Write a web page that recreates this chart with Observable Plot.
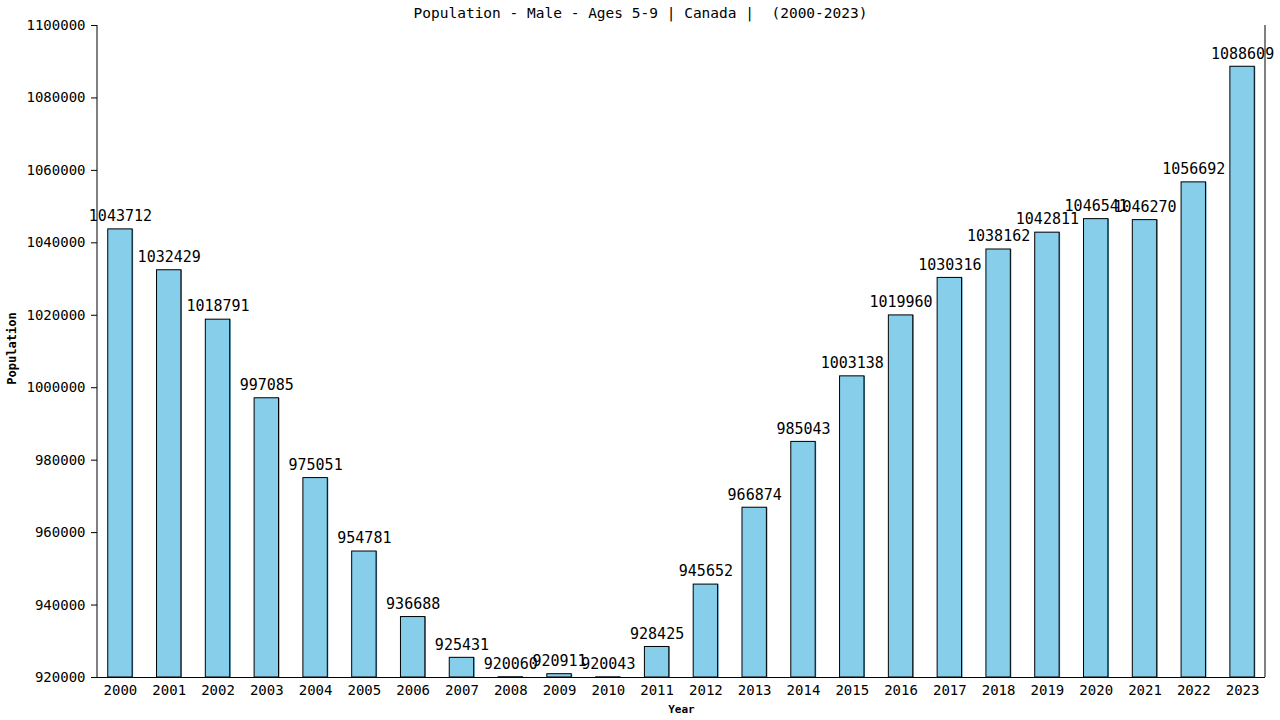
<!DOCTYPE html>
<html>
<head>
<meta charset="utf-8">
<script src="https://cdn.jsdelivr.net/npm/d3@7"></script>
<script src="https://cdn.jsdelivr.net/npm/@observablehq/plot@0.6"></script>
<style>
  html, body { margin: 0; padding: 0; background: #fff; }
  svg { display: block; }
</style>
</head>
<body>
<div id="chart"></div>
<script>
const years = ["2000","2001","2002","2003","2004","2005","2006","2007","2008","2009","2010","2011","2012","2013","2014","2015","2016","2017","2018","2019","2020","2021","2022","2023"];
const population = [1043712,1032429,1018791,997085,975051,954781,936688,925431,920060,920911,920043,928425,945652,966874,985043,1003138,1019960,1030316,1038162,1042811,1046541,1046270,1056692,1088609];
const yTicks = [920000,940000,960000,980000,1000000,1020000,1040000,1060000,1080000,1100000];
const baseline = 920000;
const titleText = "Population - Male - Ages 5-9 | Canada |  (2000-2023)";

const data = years.map((y, i) => ({year: y, value: population[i]}));
const font = "'DejaVu Sans Mono', monospace";

const plot = Plot.plot({
  width: 1280,
  height: 720,
  marginLeft: 97,
  marginRight: 15,
  marginTop: 25,
  marginBottom: 43,
  style: {fontFamily: font, background: "#fff", color: "#000"},
  x: {domain: years, paddingInner: 0.5, paddingOuter: 0.22, round: false, label: null},
  y: {domain: [920000, 1100000], label: null},
  marks: [
    Plot.barY(data, {x: "year", y1: baseline, y2: "value", fill: "#3f8fb5", dx: 1}),
    Plot.barY(data, {x: "year", y1: baseline, y2: "value", fill: "#87CEEB", stroke: "#000", strokeWidth: 1}),
    Plot.text(data, {x: "year", y: "value", text: d => String(d.value), dy: -13, fontSize: 15, fill: "#000"}),
    Plot.axisY({ticks: yTicks, tickFormat: d => String(d), tickSize: 6, tickPadding: 6, fontSize: 14, label: null}),
    Plot.axisX({tickSize: 0, tickPadding: 8, fontSize: 14, label: null}),
    Plot.ruleY([baseline], {stroke: "#000"}),
    Plot.text([titleText], {frameAnchor: "top", lineAnchor: "middle", dx: -41, dy: -12, fontSize: 14.5, fill: "#000"}),
    Plot.text(["Year"], {frameAnchor: "bottom", lineAnchor: "middle", dy: 32, fontSize: 11, fontWeight: "bold", fill: "#000"}),
    Plot.text(["Population"], {frameAnchor: "left", textAnchor: "middle", lineAnchor: "middle", dx: -85, dy: -3, rotate: -90, fontSize: 12, fontWeight: "bold", fill: "#000"})
  ]
});

// axis lines (left and right) using the plot's own scales
const xr = plot.scale("x").range;
const yScale = plot.scale("y");
const svg = d3.select(plot);
const y0 = yScale.apply(920000), y1 = yScale.apply(1100000);
[xr[0], xr[1]].forEach(xx => {
  svg.append("line").attr("x1", xx).attr("x2", xx).attr("y1", y0).attr("y2", y1)
    .attr("stroke", "#000").attr("stroke-width", 1);
});

document.getElementById("chart").appendChild(plot);
</script>
</body>
</html>
